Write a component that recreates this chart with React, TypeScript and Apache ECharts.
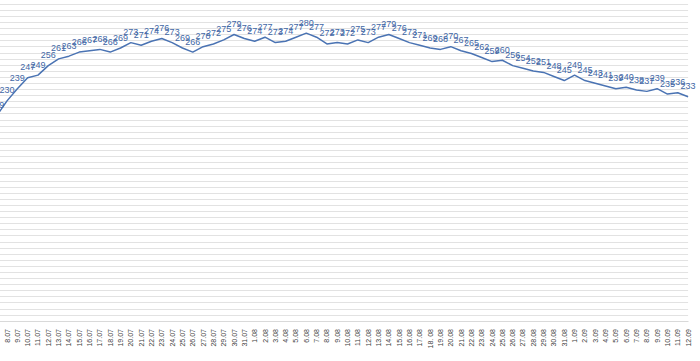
import React, { useEffect, useRef } from "react";
import * as echarts from "echarts";

const categories: string[] = [
  "7.07",
  "8.07", "9.07", "10.07", "11.07", "12.07", "13.07", "14.07", "15.07", "16.07", "17.07",
  "18.07", "19.07", "20.07", "21.07", "22.07", "23.07", "24.07", "25.07", "26.07", "27.07",
  "28.07", "29.07", "30.07", "31.07",
  "1.08", "2.08", "3.08", "4.08", "5.08", "6.08", "7.08", "8.08", "9.08", "10.08",
  "11.08", "12.08", "13.08", "14.08", "15.08", "16.08", "17.08", "18. 08", "19.08", "20.08",
  "21.08", "22.08", "23.08", "24.08", "25.08", "26.08", "27.08", "28.08", "29.08", "30.08", "31.08",
  "1.09", "2.09", "3.09", "4.09", "5.09", "6.09", "7.09", "8.09", "9.09", "10.09", "11.09", "12.09",
];

const values: number[] = [
  219,
  230, 239, 247, 249, 256, 261, 263, 266, 267, 268,
  266, 269, 273, 271, 274, 276, 273, 269, 266, 270,
  272, 275, 279, 276,
  274, 277, 273, 274, 277, 280, 277, 272, 273, 272,
  275, 273, 277, 279, 276, 273, 271, 269, 268, 270,
  267, 265, 262, 259, 260, 256, 254, 252, 251, 248, 245,
  249, 245, 243, 241, 239, 240, 238, 237, 239, 235, 236, 233,
];

const yMin = 67.5;
const yMax = 301.5;
const yStep = 4.5;

export default function App() {
  const ref = useRef<HTMLDivElement>(null);
  useEffect(() => {
    if (!ref.current) return;
    const chart = echarts.init(ref.current, undefined, { renderer: "svg" });
    chart.setOption({
      animation: false,
      backgroundColor: "#ffffff",
      grid: { left: 16.7, right: 31.9, top: 4, height: 317, containLabel: false },
      xAxis: {
        type: "category",
        data: categories,
        boundaryGap: false,
        axisLine: { show: true, lineStyle: { color: "#d9d9d9", width: 1 } },
        axisTick: { show: false },
        axisLabel: {
          interval: (i: number) => i > 0,
          rotate: 90,
          margin: 8,
          fontSize: 7,
          color: "#404040",
          fontFamily: "Liberation Sans, Arial, sans-serif",
        },
        splitLine: { show: false },
      },
      yAxis: {
        type: "value",
        min: yMin,
        max: yMax,
        interval: yStep,
        axisLabel: { show: false },
        axisLine: { show: false },
        axisTick: { show: false },
        splitLine: { show: true, lineStyle: { color: "#e2e2e2", width: 1 } },
      },
      series: [
        {
          type: "line",
          data: values,
          showSymbol: true,
          symbol: "circle",
          symbolSize: 0,
          lineStyle: { color: "#4a73b3", width: 1.5 },
          itemStyle: { color: "#4a73b3" },
          label: {
            show: true,
            position: "top",
            distance: 6,
            fontSize: 9,
            color: "#3f67a6",
            fontFamily: "Liberation Sans, Arial, sans-serif",
          },
        },
      ],
    });
    return () => chart.dispose();
  }, []);
  return (
    <div style={{ position: "absolute", left: 0, top: 0, width: 700, height: 361, overflow: "hidden", background: "#fff" }}>
      <div ref={ref} style={{ position: "absolute", left: -20, top: 0, width: 740, height: 361 }} />
    </div>
  );
}
